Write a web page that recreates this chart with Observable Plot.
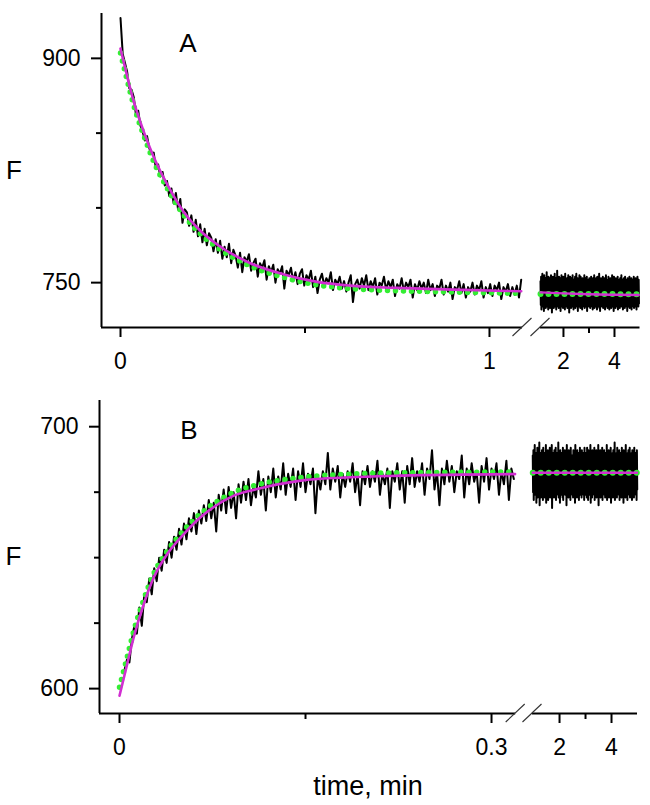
<!DOCTYPE html>
<html>
<head>
<meta charset="utf-8">
<script src="https://cdn.jsdelivr.net/npm/d3@7"></script>
<script src="https://cdn.jsdelivr.net/npm/@observablehq/plot@0.6"></script>
<style>
  html, body { margin: 0; padding: 0; background: #fff; }
  svg { display: block; }
</style>
</head>
<body>
<div id="panelA"></div>
<div id="panelB"></div>
<script>
// ---------------- Panel A data ----------------
const aLeftT0 = 0, aLeftStep = 0.006;
const aLeftF = [
  927, 903, 897, 891, 880, 879, 874, 862, 865, 855,
  851, 845, 848, 840, 836, 837, 826, 829, 821, 824,
  815, 818, 808, 813, 803, 810, 799, 806, 790, 799,
  797, 788, 795, 784, 792, 781, 789, 777, 786, 775,
  783, 780, 771, 779, 770, 778, 766, 774, 767, 776,
  763, 772, 768, 760, 770, 757, 767, 764, 769, 758,
  763, 766, 754, 763, 760, 765, 752, 761, 757, 762,
  750, 759, 756, 761, 746, 758, 755, 760, 751, 757,
  749, 756, 759, 748, 755, 752, 758, 747, 754, 743,
  752, 756, 748, 753, 750, 757, 745, 752, 749, 754,
  746, 751, 744, 750, 755, 737, 749, 752, 746, 753,
  748, 755, 745, 751, 747, 753, 742, 750, 748, 754,
  745, 751, 747, 752, 741, 749, 746, 753, 744, 750,
  747, 752, 740, 749, 745, 751, 746, 750, 743, 752,
  745, 749, 741, 748, 746, 752, 742, 748, 744, 750,
  739, 747, 745, 751, 743, 749, 740, 747, 744, 750,
  742, 748, 745, 751, 740, 747, 743, 749, 741, 748,
  745, 750, 739, 747, 744, 749, 741, 747, 742, 748,
  740, 752
];
const aRightT0 = 1.1, aRightStep = 0.0121;
const aRightHigh = [751, 754, 749, 756, 752, 750, 755, 748, 753, 751, 757, 749, 752, 754, 750, 753, 748, 755, 751, 750, 754, 752, 749, 756, 751, 753, 750, 758, 752, 749, 754, 751, 753, 750, 755, 748, 752, 754, 751, 749, 756, 752, 750, 753, 751, 755, 749, 752, 754, 750, 753, 748, 755, 751, 752, 750, 754, 749, 756, 751, 753, 750, 752, 755, 748, 754, 751, 750, 753, 752, 749, 755, 751, 753, 750, 754, 752, 749, 751, 753, 750, 752, 754, 749, 751, 753, 750, 755, 752, 749, 753, 751, 754, 750, 752, 756, 749, 751, 753, 750, 752, 754, 751, 749, 753, 750, 755, 752, 751, 749, 754, 750, 752, 753, 751, 749, 755, 750, 752, 754, 751, 749, 753, 752, 750, 754, 751, 749, 752, 753, 750, 755, 751, 752, 749, 753, 750, 754, 752, 751, 749, 753, 750, 752, 754, 751, 750, 753, 749, 752, 751, 754, 750, 752, 753, 749, 751, 754, 750, 752];
const aRightLow = [735, 732, 737, 734, 736, 731, 735, 738, 733, 736, 734, 737, 732, 735, 736, 733, 737, 734, 730, 736, 735, 733, 737, 734, 736, 732, 735, 737, 734, 733, 736, 735, 731, 737, 734, 736, 733, 735, 737, 732, 734, 736, 735, 733, 737, 734, 730, 736, 735, 733, 737, 734, 736, 732, 735, 737, 733, 734, 736, 735, 731, 737, 734, 736, 733, 735, 737, 732, 734, 736, 735, 733, 737, 734, 736, 731, 735, 737, 734, 736, 733, 735, 737, 734, 732, 736, 735, 733, 737, 734, 736, 732, 735, 734, 737, 733, 731, 736, 735, 734, 737, 733, 735, 736, 732, 734, 737, 735, 733, 736, 734, 732, 737, 735, 733, 736, 734, 737, 731, 735, 736, 733, 734, 737, 735, 732, 736, 734, 733, 737, 735, 734, 736, 732, 735, 737, 733, 734, 736, 735, 731, 737, 734, 736, 733, 735, 737, 732, 734, 736, 735, 733, 737, 734, 736, 732, 735, 737, 734, 736];
// fitted curves
const aFitT = [0, 0.018, 0.036, 0.063, 0.09, 0.127, 0.172, 0.217, 0.262, 0.352, 0.443, 0.533, 0.623, 0.75, 0.9, 1.086];
const aFitF = [906.5, 888, 871, 851, 834, 815.5, 797, 784.5, 775.5, 763, 755.5, 750.5, 748, 746.5, 745.3, 744.2];
const aFitRightT = [1.1, 2, 3, 4, 4.95];
const aFitRightF = [743.5, 742.8, 742.2, 741.9, 741.7];
const aGreenF = [903.5, 885.5, 868.5, 848.5, 831, 813, 795, 782.5, 773.5, 761, 753.5, 748.5, 746, 744.6, 743.7, 742.8];
const aGreenRightT = [1.1, 5.0];
const aGreenRightF = [742.4, 742.3];
const aYMajor = [900, 750], aYMinor = [850, 800];
const aXMajor = [0, 1, 2, 4], aXMinor = [0.5, 3];
const aXLabels = ["0", "1", "2", "4"];

// ---------------- Panel B data ----------------
const bLeftT0 = 0.004, bLeftStep = 0.002;
const bLeftF = [
  607, 611, 610, 619, 624, 621, 631, 624, 636, 633,
  642, 636, 646, 641, 650, 645, 653, 648, 656, 650,
  658, 653, 661, 655, 663, 657, 665, 660, 667, 659,
  668, 663, 670, 664, 672, 665, 671, 660, 674, 668,
  676, 667, 677, 669, 675, 665, 678, 671, 679, 672,
  680, 670, 677, 673, 683, 674, 680, 668, 681, 675,
  684, 673, 681, 676, 686, 674, 682, 677, 684, 672,
  683, 677, 686, 675, 682, 678, 684, 667, 681, 676,
  683, 678, 690, 676, 684, 679, 685, 673, 682, 677,
  683, 679, 686, 675, 682, 670, 683, 678, 685, 677,
  683, 679, 687, 674, 682, 678, 684, 669, 683, 679,
  686, 676, 683, 671, 685, 678, 688, 677, 683, 679,
  686, 674, 684, 680, 691, 676, 683, 670, 684, 678,
  687, 679, 685, 675, 683, 680, 689, 673, 684, 678,
  686, 679, 683, 671, 685, 679, 688, 676, 684, 680,
  686, 674, 683, 678, 687, 672, 684, 680
];
const bRightT0 = 0.97, bRightStep = 0.0126;
const bRightHigh = [689, 691, 687, 693, 688, 690, 686, 692, 689, 688, 694, 687, 690, 689, 691, 686, 692, 688, 690, 687, 693, 689, 688, 691, 687, 690, 692, 686, 689, 693, 688, 690, 687, 691, 689, 692, 686, 690, 688, 694, 687, 689, 691, 688, 690, 686, 692, 689, 687, 691, 690, 688, 693, 687, 689, 691, 686, 690, 692, 688, 689, 687, 691, 690, 688, 693, 686, 689, 691, 688, 690, 687, 692, 689, 688, 691, 687, 690, 689, 692, 688, 690, 687, 692, 689, 691, 686, 690, 693, 688, 689, 691, 687, 690, 692, 688, 686, 691, 689, 690, 693, 687, 689, 691, 688, 690, 692, 686, 689, 691, 688, 690, 687, 693, 689, 688, 691, 690, 687, 692, 689, 688, 690, 691, 687, 694, 689, 688, 690, 692, 687, 689, 691, 688, 690, 686, 692, 689, 688, 691, 690, 687, 693, 689, 688, 690, 691, 687, 692, 689, 688, 690, 691, 687, 689, 692, 688, 690, 689, 691];
const bRightLow = [675, 672, 677, 674, 676, 671, 675, 673, 677, 674, 670, 676, 673, 675, 677, 672, 674, 676, 673, 675, 671, 677, 674, 672, 676, 675, 673, 677, 674, 669, 675, 676, 673, 674, 677, 672, 675, 676, 674, 673, 677, 671, 675, 674, 676, 673, 672, 677, 675, 674, 676, 670, 675, 677, 673, 674, 676, 672, 675, 677, 674, 673, 676, 675, 671, 677, 674, 673, 676, 675, 672, 677, 674, 676, 673, 675, 677, 674, 672, 676, 674, 675, 673, 677, 672, 676, 674, 675, 671, 677, 673, 675, 676, 674, 672, 677, 675, 673, 676, 674, 670, 675, 677, 673, 676, 674, 672, 675, 677, 674, 673, 676, 675, 672, 677, 674, 673, 676, 675, 671, 677, 674, 673, 676, 675, 672, 674, 677, 673, 675, 676, 674, 672, 677, 675, 673, 676, 674, 671, 675, 677, 673, 676, 674, 672, 675, 677, 674, 673, 676, 675, 672, 677, 674, 673, 676, 675, 674, 672, 676];
const bFitT = [0, 0.0062, 0.0115, 0.0196, 0.0277, 0.0385, 0.0519, 0.0653, 0.0788, 0.0922, 0.111, 0.146, 0.186, 0.227, 0.319];
const bFitF = [597.3, 609.4, 619.6, 632.3, 642.5, 651.4, 659.0, 665.4, 670.2, 673.7, 676.2, 679.4, 680.7, 681.3, 681.9];
const bGreenF = [600.5, 612, 622, 634, 644, 652.5, 660.5, 666.8, 671.5, 675, 677.8, 680.6, 681.9, 682.4, 682.7];
const bFitRightT = [0.97, 4.98];
const bFitRightF = [682.4, 682.4];
const bGreenRightT = [0.97, 5.0];
const bGreenRightF = [682.4, 682.4];
const bYMajor = [700, 600], bYMinor = [675, 650, 625];
const bXMajor = [0, 0.3, 2, 4], bXMinor = [0.15, 3];
const bXLabels = ["0", "0.3", "2", "4"];

// ---------------- helpers ----------------
const FONT = "Arial, 'Liberation Sans', Helvetica, sans-serif";
const MAGENTA = "#d12ed1", GREEN = "#33ee33";

const series = (t0, step, F) => F.map((f, i) => ({t: t0 + i * step, F: f}));
const band = (t0, step, hi, lo) => d3.merge(d3.zip(hi, lo)).map((f, i) => ({t: t0 + i * step, F: f}));
const curve = (T, F) => T.map((t, i) => ({t, F: F[i]}));

function breakMarks(points, yv) {
  return (index, scales) => {
    const ns = "http://www.w3.org/2000/svg";
    const g = document.createElementNS(ns, "g");
    for (const b of points) {
      const cx = scales.x(b), cy = scales.y(yv);
      const l = document.createElementNS(ns, "line");
      l.setAttribute("x1", cx - 9.5); l.setAttribute("y1", cy + 9);
      l.setAttribute("x2", cx + 9.5); l.setAttribute("y2", cy - 9);
      l.setAttribute("stroke", "#333"); l.setAttribute("stroke-width", 1.1);
      g.appendChild(l);
    }
    return g;
  };
}

function panel(o) {
  const [xmin] = o.xDomain;
  const [ymin, ymax] = o.yDomain;
  const labelOf = new Map(o.xMajor.map((v, i) => [v, o.xLabels[i]]));
  return Plot.plot({
    width: 650, height: o.height,
    marginLeft: o.ml, marginRight: 10, marginTop: o.mt, marginBottom: o.mb,
    style: {fontFamily: FONT, fontSize: "23px", color: "black", background: "white"},
    x: {type: "linear", domain: o.xDomain, range: o.xRange, label: null},
    y: {type: "linear", domain: o.yDomain, label: null},
    marks: [
      // axes lines
      Plot.ruleX([{x: xmin, y1: ymin, y2: ymax}], {x: "x", y1: "y1", y2: "y2", strokeWidth: 2}),
      Plot.ruleY(o.xSegs.map(([a, b]) => ({y: ymin, x1: a, x2: b})), {y: "y", x1: "x1", x2: "x2", strokeWidth: 2}),
      breakMarks(o.breaks, ymin),
      Plot.axisY(o.yMajor, {anchor: "left", tickSize: 10, tickPadding: 11, strokeWidth: 2, label: null, fontSize: 23}),
      Plot.axisY(o.yMinor, {anchor: "left", tickSize: 5, tickFormat: () => "", strokeWidth: 2, label: null}),
      Plot.axisX(o.xMajor, {anchor: "bottom", tickSize: 10, tickPadding: 15, strokeWidth: 2, label: null, fontSize: 23, tickFormat: d => labelOf.get(d)}),
      Plot.axisX(o.xMinor, {anchor: "bottom", tickSize: 6, tickFormat: () => "", strokeWidth: 2, label: null}),
      // data
      Plot.line(o.left, {x: "t", y: "F", stroke: "black", strokeWidth: 2}),
      Plot.line(o.right, {x: "t", y: "F", stroke: "black", strokeWidth: 2}),
      Plot.line(o.green, {x: "t", y: "F", stroke: GREEN, strokeWidth: 5.5, strokeDasharray: "0 8", strokeLinecap: "round", curve: "monotone-x"}),
      Plot.line(o.greenR, {x: "t", y: "F", stroke: GREEN, strokeWidth: 6, strokeDasharray: "0 8", strokeLinecap: "round"}),
      Plot.line(o.fit, {x: "t", y: "F", stroke: MAGENTA, strokeWidth: 2.6, curve: "monotone-x"}),
      Plot.line(o.fitR, {x: "t", y: "F", stroke: MAGENTA, strokeWidth: 2.4, curve: "monotone-x"}),
      // texts
      Plot.text([o.letter], {frameAnchor: "top-left", dx: o.letterDx, dy: o.letterDy, fontSize: 26, textAnchor: "middle", lineAnchor: "middle"}),
      Plot.text(["F"], {frameAnchor: "left", dx: o.fDx, fontSize: 26, textAnchor: "middle", lineAnchor: "middle"}),
      ...(o.xTitle ? [Plot.text([o.xTitle], {frameAnchor: "bottom", dx: -2, dy: 73, fontSize: 27, textAnchor: "middle", lineAnchor: "middle"})] : [])
    ]
  });
}

document.getElementById("panelA").append(panel({
  height: 390, ml: 101, mt: 13, mb: 63,
  xDomain: [-0.0515, 1.0895, 1.1, 5.0], xRange: [101, 522, 540, 639.5],
  yDomain: [720, 930],
  xSegs: [[-0.0515, 1.0895], [1.1, 5.0]], breaks: [1.0895, 1.1],
  yMajor: aYMajor, yMinor: aYMinor, xMajor: aXMajor, xMinor: aXMinor, xLabels: aXLabels,
  left: series(aLeftT0, aLeftStep, aLeftF),
  right: band(aRightT0, aRightStep, aRightHigh, aRightLow),
  fit: curve(aFitT, aFitF), fitR: curve(aFitRightT, aFitRightF),
  green: curve(aFitT, aGreenF), greenR: curve(aGreenRightT, aGreenRightF),
  letter: "A", letterDx: 86.5, letterDy: 30.5, fDx: -87.5
}));

document.getElementById("panelB").append(panel({
  height: 415, ml: 99, mt: 10, mb: 92,
  xDomain: [-0.01613, 0.3195, 0.96, 5.0], xRange: [99, 515.2, 532, 637],
  yDomain: [590.5, 710],
  xSegs: [[-0.01613, 0.3195], [0.96, 5.0]], breaks: [0.3195, 0.96],
  yMajor: bYMajor, yMinor: bYMinor, xMajor: bXMajor, xMinor: bXMinor, xLabels: bXLabels,
  left: series(bLeftT0, bLeftStep, bLeftF),
  right: band(bRightT0, bRightStep, bRightHigh, bRightLow),
  fit: curve(bFitT, bFitF), fitR: curve(bFitRightT, bFitRightF),
  green: curve(bFitT, bGreenF), greenR: curve(bGreenRightT, bGreenRightF),
  letter: "B", letterDx: 89.5, letterDy: 30, fDx: -86,
  xTitle: "time, min"
}));
</script>
</body>
</html>
